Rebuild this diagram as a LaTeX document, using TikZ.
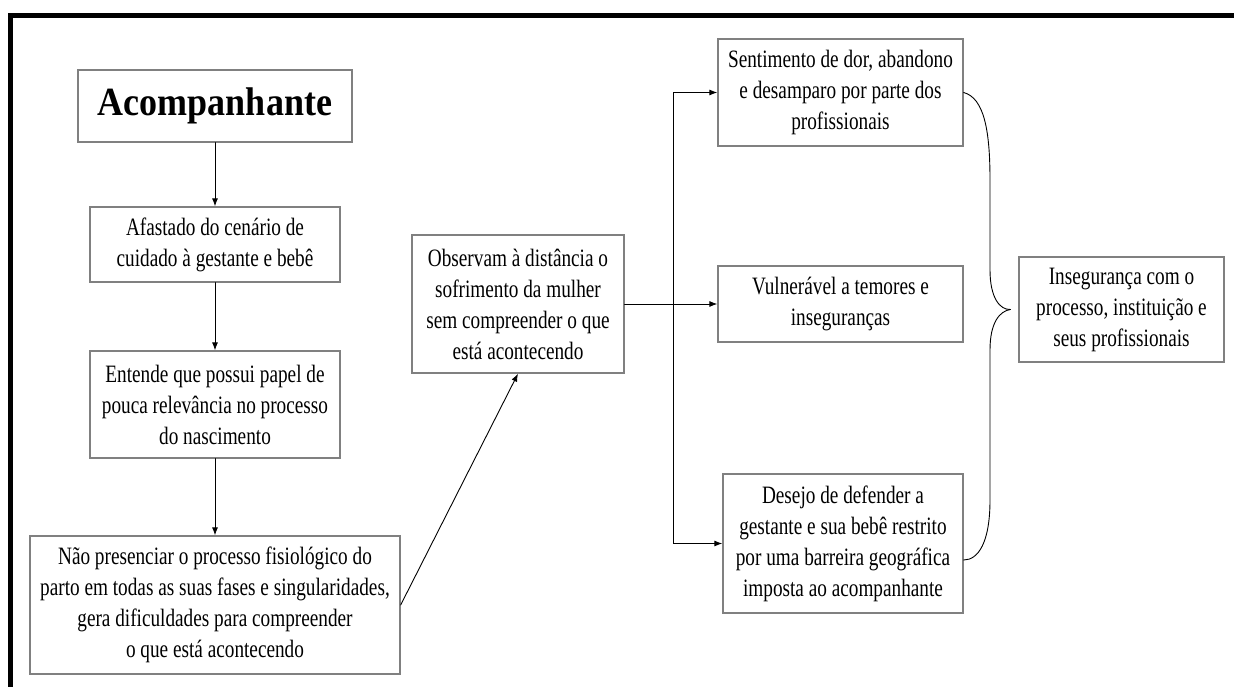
\documentclass[tikz,border=0pt]{standalone}
\usepackage{fontspec}
\setmainfont[FakeStretch=0.77]{Liberation Serif}
\newfontfamily\titulo[FakeStretch=0.9]{Liberation Serif}
\usetikzlibrary{arrows.meta}
\begin{document}
\begin{tikzpicture}[x=1pt,y=-1pt,line cap=round]
	\tikzstyle{caixa}=[draw=gray,line width=1.3pt,fill=white,align=center,inner sep=0pt,font=\fontsize{25}{31}\selectfont];
	\tikzstyle{seta}=[-{Latex[length=8pt,width=6pt]},line width=0.9pt];
	\useasboundingbox (0,0) rectangle (1234,687);
	%% moldura
	\draw[line width=4.5pt,line cap=butt] (1234,15.5) -- (10.5,15.5) -- (10.5,687);
	%% coluna da esquerda
	\node[caixa,minimum width=274pt,minimum height=72pt,font=\titulo\bfseries\fontsize{40}{44}\selectfont] (A) at (215,106) {Acompanhante};
	\node[caixa,minimum width=250pt,minimum height=75pt]  (B) at (215,244.5) {Afastado do cenário de\\cuidado à gestante e bebê};
	\node[caixa,minimum width=250pt,minimum height=107pt] (C) at (215,404.5) {Entende que possui papel de\\pouca relevância no processo\\do nascimento};
	\node[caixa,minimum width=370pt,minimum height=138pt] (D) at (215,605)   {Não presenciar o processo fisiológico do\\parto em todas as suas fases e singularidades,\\gera dificuldades para compreender\\o que está acontecendo};
	%% meio
	\node[caixa,minimum width=212pt,minimum height=138pt] (E) at (518,304)   {Observam à distância o\\sofrimento da mulher\\sem compreender o que\\está acontecendo};
	%% coluna da direita
	\node[caixa,minimum width=245pt,minimum height=107pt] (F) at (840.5,92.5) {Sentimento de dor, abandono\\e desamparo por parte dos\\profissionais};
	\node[caixa,minimum width=245pt,minimum height=76pt]  (G) at (840.5,304) {Vulnerável a temores e\\inseguranças};
	\node[caixa,minimum width=240pt,minimum height=139pt] (H) at (843,543.5) {Desejo de defender a\\gestante e sua bebê restrito\\por uma barreira geográfica\\imposta ao acompanhante};
	\node[caixa,minimum width=205pt,minimum height=105pt] (I) at (1121.5,309.5) {Insegurança com o\\processo, instituição e\\seus profissionais};
	%% setas
	\draw[seta] (A) -- (B);
	\draw[seta] (B) -- (C);
	\draw[seta] (C) -- (D);
	\draw[seta] (D.east) -- (E.south);
	\draw[seta] (E) -- (G);
	\coordinate (R) at (673,304);
	\draw[seta] (R) |- (F.west);
	\draw[seta] (R) |- (H.west);
	%% chave
	\coordinate (bico) at ([xshift=-8pt]I.west);
	\draw[line width=0.9pt] (F.east) .. controls (984,98) and (990,130) .. (990,180) -- (990,270) .. controls (990,298) and (1000,310) .. (bico);
	\draw[line width=0.9pt] (bico) .. controls (1000,311) and (990,322) .. (990,350) -- (990,500) .. controls (990,543) and (978,560) .. ([yshift=-16.5pt]H.east);
\end{tikzpicture}
\end{document}
